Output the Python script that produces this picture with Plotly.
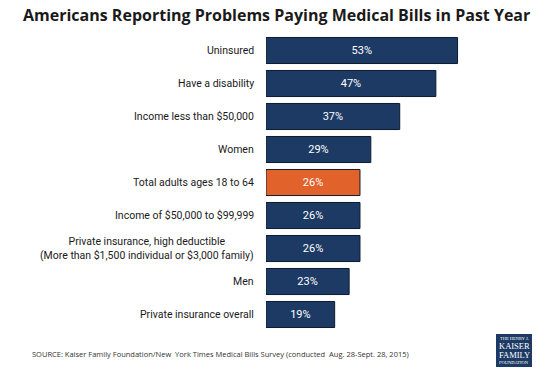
import plotly.graph_objects as go

categories = [
    "Uninsured",
    "Have a disability",
    "Income less than $50,000",
    "Women",
    "Total adults ages 18 to 64",
    "Income of $50,000 to $99,999",
    "Private insurance, high deductible<br>(More than $1,500 individual or $3,000 family)",
    "Men",
    "Private insurance overall",
]
values = [53, 47, 37, 29, 26, 26, 26, 23, 19]
value_labels = ["53%", "47%", "37%", "29%", "26%", "26%", "26%", "23%", "19%"]
highlight = "Total adults ages 18 to 64"
logo_lines = ["THE HENRY J.", "KAISER", "FAMILY", "FOUNDATION"]

NAVY = "#1c3a64"
ORANGE = "#e1622b"
colors = [ORANGE if c == highlight else NAVY for c in categories]

W, H = 553, 369
ML, MR, MT, MB = 266, 34, 33.5, 38
PW, PH = W - ML - MR, H - MT - MB


def px(x):
    return (x - ML) / PW


def py(y):
    return (H - MB - y) / PH


fig = go.Figure()
fig.add_trace(go.Bar(
    x=values,
    y=categories,
    orientation="h",
    marker=dict(color=colors, line=dict(color="#0d1a2e", width=1)),
    text=value_labels,
    textposition="inside",
    insidetextanchor="middle",
    textangle=0,
    textfont=dict(color="white", size=11, family="Roboto, Open Sans, sans-serif"),
    hoverinfo="skip",
))

annotations = []
for c in categories:
    annotations.append(dict(
        x=0, y=c, xref="paper", yref="y",
        text=c, showarrow=False,
        xanchor="right", yanchor="middle", align="center",
        xshift=-10,
        font=dict(size=10.5, color="#1a1a1a", family="Roboto, Open Sans, sans-serif"),
    ))

annotations.append(dict(
    x=px(276), y=py(14), xref="paper", yref="paper",
    text="<b>Americans Reporting Problems Paying Medical Bills in Past Year</b>",
    showarrow=False, xanchor="center", yanchor="middle",
    font=dict(size=16, color="#1a1a1a", family="Open Sans, Noto Sans, sans-serif"),
))
annotations.append(dict(
    x=px(30), y=py(354), xref="paper", yref="paper",
    text="SOURCE: Kaiser Family Foundation/New  York Times Medical Bills Survey (conducted  Aug. 28-Sept. 28, 2015)",
    showarrow=False, xanchor="left", yanchor="middle",
    font=dict(size=7.5, color="#333333", family="Open Sans, Noto Sans, sans-serif"),
))

logo_y = [338.5, 346, 355, 362.5]
logo_size = [4.5, 8.5, 8.5, 4.5]
for t, yy, sz in zip(logo_lines, logo_y, logo_size):
    annotations.append(dict(
        x=px(514), y=py(yy), xref="paper", yref="paper",
        text=t, showarrow=False, xanchor="center", yanchor="middle",
        borderpad=0,
        font=dict(size=sz, color="white", family="Liberation Serif, DejaVu Serif, serif"),
    ))

shapes = [dict(
    type="rect", xref="paper", yref="paper",
    x0=px(496), x1=px(532), y0=py(367), y1=py(334),
    fillcolor="#1c3a64", line=dict(width=0), layer="below",
)]

fig.update_layout(
    width=W, height=H,
    margin=dict(l=ML, r=MR, t=MT, b=MB),
    paper_bgcolor="white", plot_bgcolor="white",
    showlegend=False,
    bargap=0.21,
    xaxis=dict(range=[0, 70], visible=False, fixedrange=True),
    yaxis=dict(autorange="reversed", showticklabels=False, showgrid=False,
               zeroline=False, fixedrange=True),
    annotations=annotations,
    shapes=shapes,
)

fig.write_html("out.html", config={"displayModeBar": False},
               post_script="document.body.style.margin='0px';")
